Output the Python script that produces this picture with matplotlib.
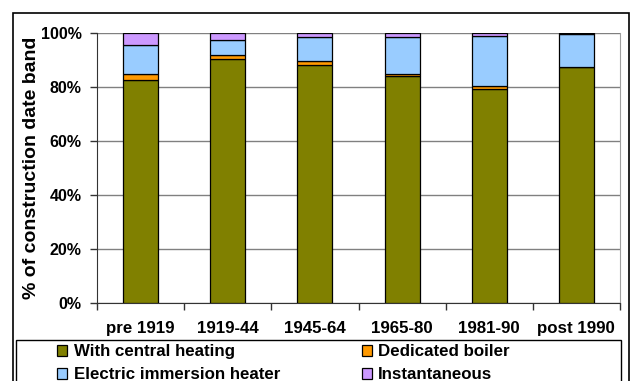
import matplotlib
matplotlib.use("Agg")
import matplotlib.pyplot as plt
from matplotlib.patches import Rectangle
import numpy as np

plt.rcParams["font.family"] = ["Liberation Sans", "DejaVu Sans"]
plt.rcParams["font.weight"] = "bold"

bands = ["pre 1919", "1919-44", "1945-64", "1965-80", "1981-90", "post 1990"]
central_heating = [82.5, 90.4, 88.0, 84.1, 79.3, 87.3]
dedicated_boiler = [2.5, 1.3, 1.6, 0.8, 1.0, 0.2]
immersion_heater = [10.4, 5.6, 8.9, 13.6, 18.7, 12.3]
instantaneous = [4.6, 2.7, 1.5, 1.5, 1.0, 0.2]

series = [
    ("With central heating", central_heating, "#808000"),
    ("Dedicated boiler", dedicated_boiler, "#FF9900"),
    ("Electric immersion heater", immersion_heater, "#99CCFF"),
    ("Instantaneous", instantaneous, "#CC99FF"),
]

W, H = 632, 381
fig = plt.figure(figsize=(W / 100, H / 100), dpi=100)

# outer chart frame (runs off the bottom edge)
fig.add_artist(Rectangle((13 / W, -0.1), (629 - 13) / W, (H - 13) / H + 0.1,
                         transform=fig.transFigure, fill=False,
                         edgecolor="black", linewidth=1.2))

ax = fig.add_axes([97 / W, (H - 303) / H, (620 - 97) / W, (303 - 33) / H])

x = np.arange(len(bands))
bottom = np.zeros(len(bands))
handles = {}
for name, vals, col in series:
    b = ax.bar(x, vals, 0.4, bottom=bottom, color=col, edgecolor="black",
               linewidth=0.9, label=name, zorder=3)
    handles[name] = b
    bottom += np.array(vals)

ax.set_xlim(-0.5, len(bands) - 0.5)
ax.set_ylim(0, 100)
ax.set_yticks(np.arange(0, 101, 20))
ax.set_yticklabels([f"{v}%" for v in range(0, 101, 20)], fontsize=11.5,
                   fontweight="bold")
ax.set_xticks(x)
ax.set_xticklabels(bands, fontsize=12.2, fontweight="bold")
ax.set_xticks(np.arange(-0.5, len(bands), 1), minor=True)
ax.tick_params(axis="x", which="major", length=0, pad=13)
ax.tick_params(axis="x", which="minor", length=5, width=1, color="#333333")
ax.tick_params(axis="y", length=5, width=1, color="#333333", pad=6)
ax.grid(True, axis="y", color="#808080", linewidth=1, zorder=0)

ax.spines["top"].set_visible(False)
ax.spines["right"].set_color("#a0a0a0")
ax.spines["left"].set_color("#333333")
ax.spines["bottom"].set_color("#333333")

ax.set_ylabel("% of construction date band", fontsize=14, fontweight="bold")
ax.yaxis.set_label_coords(-(97 - 40) / (620 - 97), 0.5)

# legend box; entries laid out row by row (matplotlib fills columns first)
fig.add_artist(Rectangle((16 / W, -0.1), (621 - 16) / W, (H - 340) / H + 0.1,
                         transform=fig.transFigure, fill=False,
                         edgecolor="black", linewidth=1.0))
order = ["With central heating", "Electric immersion heater",
         "Dedicated boiler", "Instantaneous"]
leg = fig.legend(handles=[handles[n] for n in order], labels=order,
                 loc="upper left", ncol=2,
                 bbox_to_anchor=(53 / W, (H - 340) / H), borderaxespad=0,
                 frameon=False, fontsize=12.2, handlelength=0.6,
                 handleheight=0.6, handletextpad=0.36, columnspacing=4.85,
                 labelspacing=0.48, borderpad=0.25)
for t in leg.get_texts():
    t.set_fontweight("bold")

fig.savefig("out.png", dpi=100)
